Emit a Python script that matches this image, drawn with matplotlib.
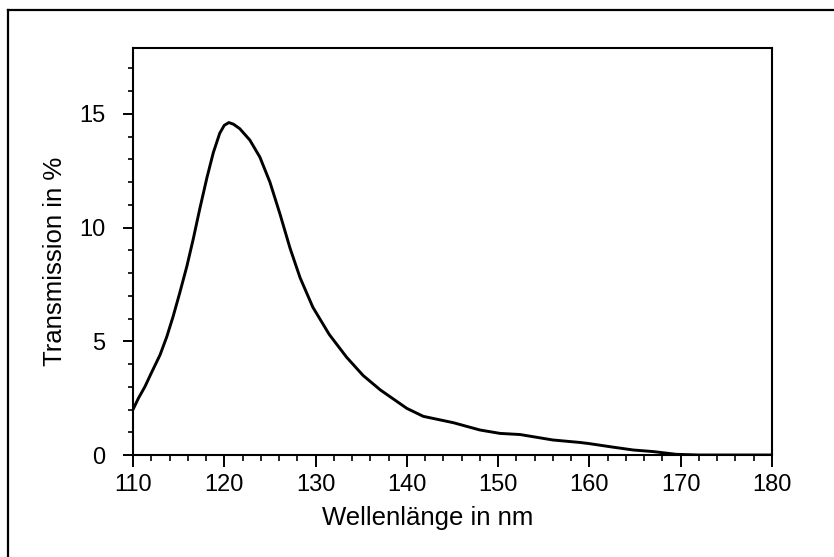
import matplotlib.pyplot as plt
from matplotlib.lines import Line2D

plt.rcParams['font.family'] = ['Liberation Sans', 'DejaVu Sans']

# transmission spectrum
wavelength = [110, 110.6, 111.3, 112.0, 112.96, 113.7, 114.4, 115.1, 115.9, 116.6,
              117.3, 118.1, 118.8, 119.5, 120.0, 120.5, 121.0, 121.7, 122.8, 123.9,
              125.0, 126.1, 127.2, 128.3, 129.7, 131.5, 133.4, 135.2, 137.1, 140.0,
              141.8, 145.1, 148.0, 150.2, 152.4, 156.0, 159.0, 160.0, 162.5, 164.8,
              167.0, 169.5, 172, 176, 180]
transmission = [2.0, 2.5, 3.0, 3.6, 4.4, 5.2, 6.1, 7.1, 8.3, 9.5,
                10.8, 12.2, 13.3, 14.15, 14.5, 14.62, 14.55, 14.35, 13.85, 13.1,
                12.0, 10.6, 9.1, 7.8, 6.5, 5.3, 4.3, 3.5, 2.86, 2.05,
                1.7, 1.42, 1.1, 0.95, 0.9, 0.66, 0.55, 0.5, 0.35, 0.22,
                0.15, 0.03, 0, 0, 0]

xticks = [110, 120, 130, 140, 150, 160, 170, 180]
yticks = [0, 5, 10, 15]
xlabel = 'Wellenlänge in nm'
ylabel = 'Transmission in %'

W, H = 834, 557
fig = plt.figure(figsize=(W / 100, H / 100), dpi=100)

# outer frame of the scanned figure
fig.add_artist(Line2D([8 / W, 8 / W], [0, 1 - 10 / H], color='black', lw=1.6))
fig.add_artist(Line2D([8 / W, 1], [1 - 10 / H, 1 - 10 / H], color='black', lw=1.6))

ax = fig.add_axes([133 / W, 1 - 455 / H, (772 - 133) / W, (455 - 48) / H])
ax.patch.set_visible(False)

ax.plot(wavelength, transmission, color='black', lw=2.1,
        solid_joinstyle='round', solid_capstyle='round')

ax.set_xlim(110, 180)
ax.set_ylim(0, 17.9)
ax.set_xticks(xticks)
ax.set_yticks(yticks)
ax.set_xticks(range(110, 181, 2), minor=True)
ax.set_yticks(range(0, 18), minor=True)

for sp in ax.spines.values():
    sp.set_linewidth(1.5)

ax.tick_params(axis='x', which='major', direction='out', length=8.5, width=1.4,
               labelsize=17, pad=5)
ax.tick_params(axis='x', which='minor', direction='out', length=4.3, width=1.2)
ax.tick_params(axis='y', which='major', direction='out', length=7, width=1.4,
               labelsize=17, pad=13)
ax.tick_params(axis='y', which='minor', direction='out', length=3.6, width=1.2)

fig.text(428 / W, 1 - 525 / H, xlabel, fontsize=18.5, ha='center', va='baseline')
fig.text(55 / W, 1 - 261 / H, ylabel, fontsize=18.5, ha='center', va='center',
         rotation=90)

fig.savefig('out.png', dpi=100)
